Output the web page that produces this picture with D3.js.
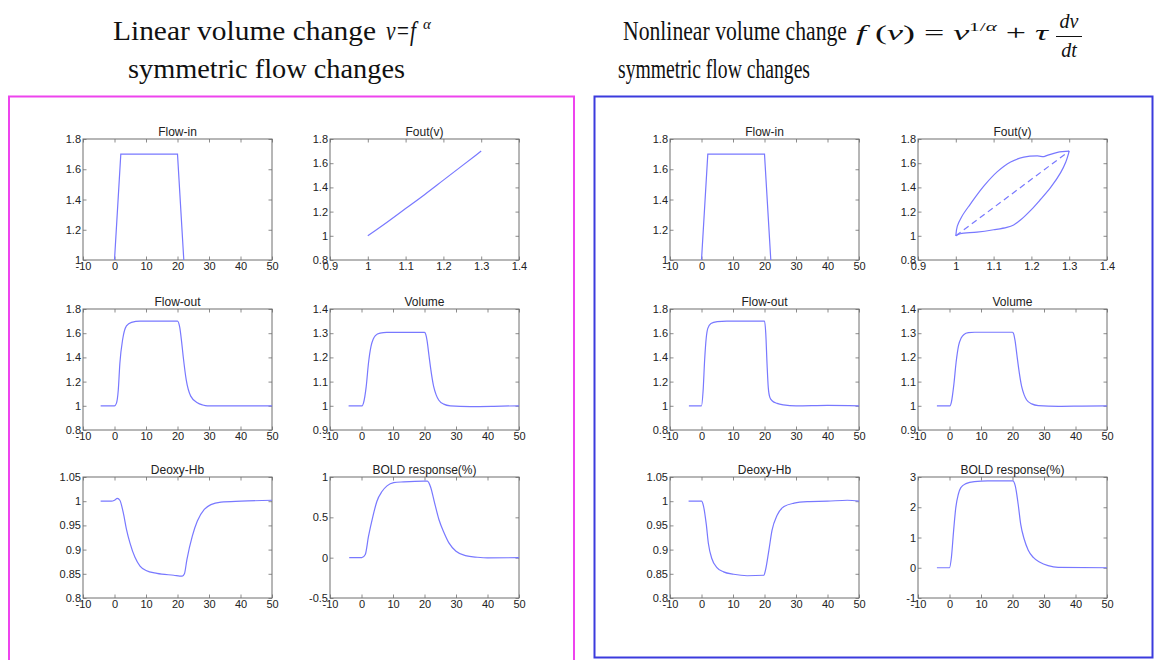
<!DOCTYPE html>
<html>
<head>
<meta charset="utf-8">
<script src="https://cdn.jsdelivr.net/npm/d3@7"></script>
<style>
  body { margin: 0; background: #fff; }
  svg { display: block; }
  .tick text { font-family: "Liberation Sans Narrow", "Arial Narrow", "Liberation Sans", Arial, sans-serif; fill: #222; }
  .ptitle { font-family: "Liberation Sans", Arial, sans-serif; font-size: 12px; fill: #222; }
  .head { font-family: "Liberation Serif", "Times New Roman", serif; fill: #111; }
</style>
</head>
<body>
<svg id="chart" width="1157" height="660"></svg>
<script>
// ---- tick values ----
const timeTicks = [-10, 0, 10, 20, 30, 40, 50];
const volTicksX = [0.9, 1, 1.1, 1.2, 1.3, 1.4];
const flowTicks = [1, 1.2, 1.4, 1.6, 1.8];
const flowTicksLow = [0.8, 1, 1.2, 1.4, 1.6, 1.8];
const volumeTicks = [0.9, 1, 1.1, 1.2, 1.3, 1.4];
const deoxyTicks = [0.8, 0.85, 0.9, 0.95, 1, 1.05];
const boldTicksLin = [-0.5, 0, 0.5, 1];
const boldTicksNon = [-1, 0, 1, 2, 3];

// ---- series: [time (s), value] or [volume, flow] ----
const flowIn = [[0, 1], [2, 1.7], [20, 1.7], [22, 1]];

// linear volume model
const foutLin = [[1, 1], [1.05, 1.11], [1.1, 1.225], [1.15, 1.34], [1.2, 1.46], [1.25, 1.58], [1.3, 1.7]];
const flowOutLin = [[-4.4, 1], [0, 1], [0.6, 1.02], [1.2, 1.13], [1.7, 1.35], [2.6, 1.55], [3.8, 1.66], [5.4, 1.69],
  [8.1, 1.7], [20, 1.7], [20.7, 1.65], [21.3, 1.53], [21.8, 1.41], [22.8, 1.21], [24.2, 1.08], [26.3, 1.025],
  [28, 1.007], [29.5, 1], [50, 1]];
const volumeLin = [[-4.1, 1], [0.2, 1], [0.6, 1.01], [1.5, 1.08], [2.2, 1.175], [3, 1.245], [3.7, 1.275], [4.4, 1.29],
  [5.9, 1.3], [8, 1.303], [20, 1.303], [20.4, 1.295], [20.8, 1.27], [21.4, 1.21], [21.9, 1.16], [22.9, 1.08],
  [23.7, 1.045], [24.5, 1.024], [26.1, 1.007], [28.2, 1], [34.6, 0.997], [42, 0.998], [50, 1]];
const deoxyLin = [[-4.4, 1], [-1, 1], [0, 1.002], [0.9, 1.006], [1.7, 1.002], [2.8, 0.976], [3.8, 0.942], [4.9, 0.914],
  [6.5, 0.884], [8.1, 0.866], [10, 0.857], [13.5, 0.851], [18.8, 0.847], [21.5, 0.845], [22.2, 0.85], [23, 0.88],
  [24.7, 0.928], [26.3, 0.959], [28.5, 0.983], [30.6, 0.993], [33.8, 0.998], [40.2, 1], [50, 1.002]];
const boldLin = [[-3.9, 0], [0.1, 0], [1.2, 0.04], [2.2, 0.26], [3.6, 0.51], [4.9, 0.7], [6.5, 0.82], [8.1, 0.89],
  [10.2, 0.93], [13.4, 0.94], [19.8, 0.95], [20.9, 0.948], [21.9, 0.88], [23.2, 0.68], [24.6, 0.47], [26.2, 0.31],
  [27.8, 0.18], [30, 0.08], [33, 0.025], [36.8, 0.005], [40, -0.003], [50, 0]];

// nonlinear volume model (windkessel with viscoelastic term)
const foutNonRise = [[1, 1], [1.004, 1.08], [1.016, 1.16], [1.038, 1.26], [1.074, 1.41], [1.11, 1.53], [1.145, 1.61],
  [1.18, 1.65], [1.216, 1.66], [1.233, 1.655], [1.242, 1.665], [1.269, 1.69], [1.3, 1.7]];
const foutNonFall = [[1.3, 1.7], [1.291, 1.61], [1.277, 1.52], [1.251, 1.4], [1.224, 1.3], [1.198, 1.21], [1.171, 1.13],
  [1.153, 1.09], [1.135, 1.07], [1.1, 1.05], [1.056, 1.03], [1.012, 1.017], [1, 1]];
const foutSteady = [[1, 1], [1.3, 1.7]];
const flowOutNon = [[-4, 1], [0, 1], [0.5, 1.12], [1, 1.38], [1.5, 1.56], [2, 1.64], [3, 1.68], [5, 1.695], [8, 1.7],
  [20, 1.7], [20.4, 1.6], [20.8, 1.35], [21.2, 1.15], [21.7, 1.07], [22.5, 1.04], [24, 1.02], [26, 1.008],
  [30, 1], [40, 1.004], [50, 1]];
const volumeNon = [[-4, 1], [0.2, 1], [0.6, 1.015], [1.4, 1.09], [2.1, 1.18], [2.9, 1.25], [3.7, 1.28], [4.6, 1.295],
  [6, 1.302], [8, 1.304], [20, 1.304], [20.4, 1.296], [20.8, 1.27], [21.4, 1.21], [21.9, 1.16], [22.9, 1.08],
  [23.7, 1.045], [24.5, 1.024], [26.1, 1.008], [28.2, 1.001], [34.6, 0.998], [42, 0.999], [50, 1]];
const deoxyNon = [[-4.1, 1], [0, 1], [0.6, 0.991], [1.5, 0.953], [2.2, 0.912], [3.3, 0.881], [4.9, 0.863], [7, 0.854],
  [10.2, 0.849], [14.5, 0.846], [19.8, 0.847], [20.3, 0.857], [21.4, 0.899], [22.4, 0.94], [24, 0.971],
  [26.2, 0.989], [29.4, 0.996], [33.6, 0.999], [40, 1], [46.3, 1.002], [50, 1]];
const boldNon = [[-4, 0], [0, 0], [0.6, 0.34], [1.3, 1.22], [2, 1.99], [2.8, 2.43], [3.6, 2.65], [5.2, 2.78],
  [7.9, 2.85], [12.1, 2.87], [20.1, 2.87], [20.9, 2.7], [21.8, 2.1], [22.6, 1.44], [23.7, 0.95], [25, 0.58],
  [26.6, 0.34], [28.7, 0.18], [31.3, 0.07], [34.5, 0.01], [50, 0]];

// ---- layout ----
const svg = d3.select("#chart");
const lineColor = "#7878ff";
const frameColor = "#6e6e6e";
const panelW = 189, panelH = 121;
const colX = [83, 330, 670, 918];
const rowY = [139, 309, 477];

// group borders
svg.append("rect").attr("x", 9).attr("y", 96.5).attr("width", 565).attr("height", 600)
  .attr("fill", "none").attr("stroke", "#ee44ee").attr("stroke-width", 2);
svg.append("rect").attr("x", 594.5).attr("y", 96.5).attr("width", 558).attr("height", 561)
  .attr("fill", "none").attr("stroke", "#3b3bdd").attr("stroke-width", 2);

// headings
function heading(str, x, y, size, len, italic) {
  const t = svg.append("text").attr("class", "head").attr("x", x).attr("y", y)
    .attr("font-size", size).text(str);
  if (len) t.attr("textLength", len).attr("lengthAdjust", "spacingAndGlyphs");
  if (italic) t.attr("font-style", "italic");
  return t;
}
heading("Linear volume change", 113, 40, 28, 263);
heading("v=f", 386, 40, 28, 30, true);
heading("\u03b1", 423, 29, 15, null, true);
heading("symmetric flow changes", 128, 78, 28, 277);

heading("Nonlinear volume change", 623, 40, 28, 224);
heading("symmetric flow changes", 618, 78, 28, 192);

// formula f(v) = v^(1/α) + τ dv/dt
const fx = svg.append("text").attr("class", "head").attr("x", 856).attr("y", 40)
  .attr("font-size", 22).attr("textLength", 192).attr("lengthAdjust", "spacingAndGlyphs");
fx.append("tspan").attr("font-style", "italic").text("f");
fx.append("tspan").text(" (");
fx.append("tspan").attr("font-style", "italic").text("v");
fx.append("tspan").text(") = ");
fx.append("tspan").attr("font-style", "italic").text("v");
fx.append("tspan").attr("font-size", 13).attr("dy", -9).text("1/");
fx.append("tspan").attr("font-size", 13).attr("font-style", "italic").text("\u03b1");
fx.append("tspan").attr("dy", 9).text(" + ");
fx.append("tspan").attr("font-style", "italic").text("\u03c4");
svg.append("text").attr("class", "head").attr("x", 1069).attr("y", 28).attr("text-anchor", "middle")
  .attr("font-size", 20).attr("font-style", "italic").text("dv");
svg.append("line").attr("x1", 1056).attr("x2", 1082).attr("y1", 36.5).attr("y2", 36.5)
  .attr("stroke", "#111").attr("stroke-width", 1);
svg.append("text").attr("class", "head").attr("x", 1069).attr("y", 57).attr("text-anchor", "middle")
  .attr("font-size", 20).attr("font-style", "italic").text("dt");

// ---- panel definitions ----
const panels = [
  { title: "Flow-in", col: 0, row: 0, xd: [-10, 50], yd: [1, 1.8], xt: timeTicks, yt: flowTicks, series: [{ d: flowIn, curve: d3.curveLinear }] },
  { title: "Fout(v)", col: 1, row: 0, xd: [0.9, 1.4], yd: [0.8, 1.8], xt: volTicksX, yt: flowTicksLow, series: [{ d: foutLin, curve: d3.curveMonotoneX }] },
  { title: "Flow-out", col: 0, row: 1, xd: [-10, 50], yd: [0.8, 1.8], xt: timeTicks, yt: flowTicksLow, series: [{ d: flowOutLin }] },
  { title: "Volume", col: 1, row: 1, xd: [-10, 50], yd: [0.9, 1.4], xt: timeTicks, yt: volumeTicks, series: [{ d: volumeLin }] },
  { title: "Deoxy-Hb", col: 0, row: 2, xd: [-10, 50], yd: [0.8, 1.05], xt: timeTicks, yt: deoxyTicks, series: [{ d: deoxyLin }] },
  { title: "BOLD response(%)", col: 1, row: 2, xd: [-10, 50], yd: [-0.5, 1], xt: timeTicks, yt: boldTicksLin, series: [{ d: boldLin }] },

  { title: "Flow-in", col: 2, row: 0, xd: [-10, 50], yd: [1, 1.8], xt: timeTicks, yt: flowTicks, series: [{ d: flowIn, curve: d3.curveLinear }] },
  { title: "Fout(v)", col: 3, row: 0, xd: [0.9, 1.4], yd: [0.8, 1.8], xt: volTicksX, yt: flowTicksLow,
    series: [{ d: foutNonRise, curve: d3.curveCatmullRom }, { d: foutNonFall, curve: d3.curveCatmullRom }, { d: foutSteady, curve: d3.curveLinear, dash: "6,4" }] },
  { title: "Flow-out", col: 2, row: 1, xd: [-10, 50], yd: [0.8, 1.8], xt: timeTicks, yt: flowTicksLow, series: [{ d: flowOutNon }] },
  { title: "Volume", col: 3, row: 1, xd: [-10, 50], yd: [0.9, 1.4], xt: timeTicks, yt: volumeTicks, series: [{ d: volumeNon }] },
  { title: "Deoxy-Hb", col: 2, row: 2, xd: [-10, 50], yd: [0.8, 1.05], xt: timeTicks, yt: deoxyTicks, series: [{ d: deoxyNon }] },
  { title: "BOLD response(%)", col: 3, row: 2, xd: [-10, 50], yd: [-1, 3], xt: timeTicks, yt: boldTicksNon, series: [{ d: boldNon }] }
];

const fmt = v => String(v);

panels.forEach(p => {
  const g = svg.append("g").attr("transform", `translate(${colX[p.col]},${rowY[p.row]})`);
  const x = d3.scaleLinear().domain(p.xd).range([0, panelW]);
  const y = d3.scaleLinear().domain(p.yd).range([panelH, 0]);

  const styleAxis = sel => {
    sel.select(".domain").remove();
    sel.selectAll(".tick line").attr("stroke", frameColor).attr("stroke-width", 0.8);
    sel.selectAll(".tick text").attr("font-size", 11);
  };

  // bottom and left with labels, ticks pointing inward
  g.append("g").attr("transform", `translate(0,${panelH})`)
    .call(d3.axisBottom(x).tickValues(p.xt).tickFormat(fmt).tickSize(-3.5).tickPadding(2))
    .call(styleAxis);
  g.append("g")
    .call(d3.axisLeft(y).tickValues(p.yt).tickFormat(fmt).tickSize(-3.5).tickPadding(2))
    .call(styleAxis);
  // top and right: ticks only
  g.append("g")
    .call(d3.axisTop(x).tickValues(p.xt).tickFormat("").tickSize(-3.5))
    .call(styleAxis);
  g.append("g").attr("transform", `translate(${panelW},0)`)
    .call(d3.axisRight(y).tickValues(p.yt).tickFormat("").tickSize(-3.5))
    .call(styleAxis);

  g.append("rect").attr("width", panelW).attr("height", panelH)
    .attr("fill", "none").attr("stroke", frameColor).attr("stroke-width", 1);

  p.series.forEach(s => {
    const line = d3.line().x(d => x(d[0])).y(d => y(d[1])).curve(s.curve || d3.curveMonotoneX);
    g.append("path").attr("d", line(s.d)).attr("fill", "none")
      .attr("stroke", lineColor).attr("stroke-width", 1.2)
      .attr("stroke-dasharray", s.dash || null);
  });

  g.append("text").attr("class", "ptitle").attr("x", panelW / 2).attr("y", -3)
    .attr("text-anchor", "middle").text(p.title);
});
</script>
</body>
</html>
